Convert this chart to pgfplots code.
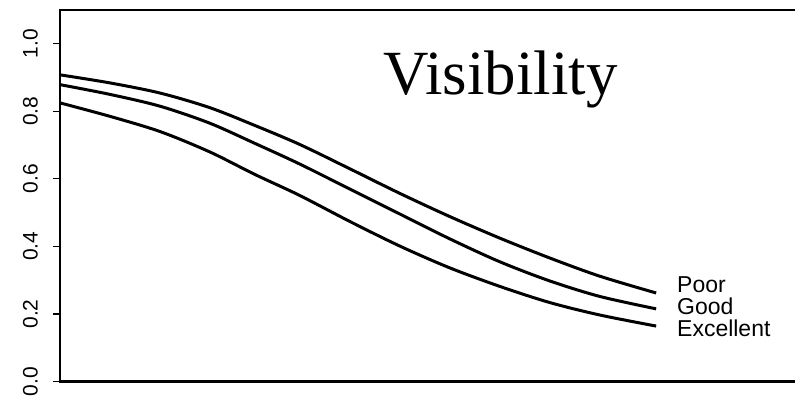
\documentclass[border=0pt]{standalone}
\usepackage{pgfplots}
\pgfplotsset{compat=1.18}
\usepackage{fontspec}
\setmainfont{Liberation Sans}
\newfontfamily\titlefont{Liberation Serif}

% survival-type curves for three visibility classes
\pgfplotstableread{
x     poor   good   excellent
0.00  0.908  0.879  0.825
0.84  0.884  0.850  0.785
1.68  0.854  0.815  0.740
2.51  0.811  0.765  0.680
3.27  0.758  0.705  0.613
4.02  0.702  0.644  0.551
4.86  0.630  0.570  0.474
5.70  0.557  0.496  0.401
6.53  0.489  0.423  0.337
7.37  0.425  0.355  0.282
8.21  0.366  0.298  0.234
9.05  0.312  0.252  0.197
10.00 0.262  0.215  0.164
}\vis

\begin{document}
\begin{tikzpicture}
\path (-60bp,-17bp) rectangle (735bp,382bp);
\begin{axis}[
  at={(0,0)}, anchor=south west,
  scale only axis,
  width=735bp, height=372bp,
  xmin=0, xmax=12.31,
  ymin=0, ymax=1.1,
  axis x line*=box,
  axis y line*=left,
  axis line style={line width=2.2bp, line cap=rect},
  xtick=\empty,
  ytick={0,0.2,0.4,0.6,0.8,1.0},
  yticklabels={0.0,0.2,0.4,0.6,0.8,1.0},
  tick align=outside,
  major tick length=7bp,
  tick style={line width=1.2bp, black},
  yticklabel shift=15bp,
  yticklabel style={rotate=90, anchor=south, inner sep=0pt,
    font=\fontsize{21bp}{24bp}\selectfont},
  /pgf/number format/assume math mode=true,
  clip=false,
]
\addplot[black, line width=3bp, smooth] table[x=x, y=poor] {\vis};
\addplot[black, line width=3bp, smooth] table[x=x, y=good] {\vis};
\addplot[black, line width=3bp, smooth] table[x=x, y=excellent] {\vis};
\node[anchor=base west, inner sep=0pt, font=\fontsize{23bp}{25bp}\selectfont] at (axis cs:10.35,0.263) {Poor};
\node[anchor=base west, inner sep=0pt, font=\fontsize{23bp}{25bp}\selectfont] at (axis cs:10.35,0.198) {Good};
\node[anchor=base west, inner sep=0pt, font=\fontsize{23bp}{25bp}\selectfont] at (axis cs:10.35,0.133) {Excellent};
\node[anchor=base, inner sep=0pt, font=\titlefont\fontsize{63bp}{68bp}\selectfont] at (axis cs:7.39,0.849) {Visibility};
\end{axis}
\end{tikzpicture}
\end{document}
